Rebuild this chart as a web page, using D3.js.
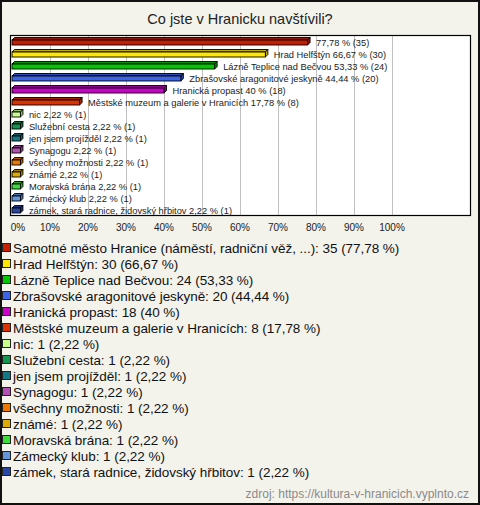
<!DOCTYPE html>
<html><head><meta charset="utf-8">
<script src="https://cdn.jsdelivr.net/npm/d3@7"></script>
<style>body{margin:0;background:#fff}svg{display:block}text{font-family:"Liberation Sans",Arial,sans-serif}</style>
</head><body>
<svg id="c" width="480" height="505"></svg>
<script>
const title = "Co jste v Hranicku navštívili?";
const categories = [
  "Samotné město Hranice (náměstí, radniční věž, ...)",
  "Hrad Helfštýn",
  "Lázně Teplice nad Bečvou",
  "Zbrašovské aragonitové jeskyně",
  "Hranická propast",
  "Městské muzeum a galerie v Hranicích",
  "nic",
  "Služební cesta",
  "jen jsem projížděl",
  "Synagogu",
  "všechny možnosti",
  "známé",
  "Moravská brána",
  "Zámecký klub",
  "zámek, stará radnice, židovský hřbitov"
];
const counts = [35, 30, 24, 20, 18, 8, 1, 1, 1, 1, 1, 1, 1, 1, 1];
const percents = [77.78, 66.67, 53.33, 44.44, 40, 17.78, 2.22, 2.22, 2.22, 2.22, 2.22, 2.22, 2.22, 2.22, 2.22];
const barNames = ["", "Hrad Helfštýn", "Lázně Teplice nad Bečvou", "Zbrašovské aragonitové jeskyně",
  "Hranická propast", "Městské muzeum a galerie v Hranicích", "nic", "Služební cesta", "jen jsem projížděl",
  "Synagogu", "všechny možnosti", "známé", "Moravská brána", "Zámecký klub", "zámek, stará radnice, židovský hřbitov"];
const colors = ["#c81e00", "#ffe800", "#00c800", "#3c64e6", "#c800c8", "#dc3200", "#c8ff8c", "#149650",
  "#147887", "#b450b4", "#eb7800", "#dcaa00", "#3cdc3c", "#6496dc", "#2846a5"];
const tickValues = [0, 10, 20, 30, 40, 50, 60, 70, 80, 90, 100];
const tickLabels = ["0%", "10%", "20%", "30%", "40%", "50%", "60%", "70%", "80%", "90%", "100%"];
const source = "zdroj: https://kultura-v-hranicich.vyplnto.cz";

const fmt = v => String(v).replace(".", ",");
const svg = d3.select("#c");

svg.append("rect").attr("x", 1).attr("y", 1).attr("width", 478).attr("height", 503)
  .attr("fill", "#f3f3ec").attr("stroke", "#111").attr("stroke-width", 2);

svg.append("text").attr("x", 240).attr("y", 24).attr("text-anchor", "middle")
  .attr("font-size", 14.5).attr("fill", "#222").text(title);

const plot = {l: 10.5, t: 35.5, w: 460, h: 180};
svg.append("rect").attr("x", plot.l).attr("y", plot.t).attr("width", plot.w).attr("height", plot.h)
  .attr("fill", "#fff");

const x = d3.scaleLinear().domain([0, 100]).range([12, 392]);
const y = d3.scaleBand().domain(categories).range([36, 216]);

svg.append("g").selectAll("line").data(tickValues.slice(1)).join("line")
  .attr("x1", d => Math.round(x(d)) + 0.5).attr("x2", d => Math.round(x(d)) + 0.5)
  .attr("y1", plot.t).attr("y2", plot.t + plot.h).attr("stroke", "#c0c0c0").attr("stroke-width", 1);

const d = 2.5, bh = 5;
const rows = categories.map((c, i) => ({c, i, p: percents[i], n: counts[i], col: colors[i]}));
const g = svg.append("g");
rows.forEach(r => {
  const x0 = x(0), x1 = x(r.p), yt = y(r.c) + 1.5;
  const dark = d3.color(r.col).darker(0.8);
  g.append("path").attr("d", `M${x0},${yt + d}L${x0 + d},${yt}L${x1 + d},${yt}L${x1},${yt + d}Z`)
    .attr("fill", dark).attr("stroke", "#000").attr("stroke-width", 0.9);
  g.append("path").attr("d", `M${x1},${yt + d}L${x1 + d},${yt}L${x1 + d},${yt + bh}L${x1},${yt + d + bh}Z`)
    .attr("fill", dark).attr("stroke", "#000").attr("stroke-width", 0.9);
  g.append("rect").attr("x", x0).attr("y", yt + d).attr("width", x1 - x0).attr("height", bh)
    .attr("fill", r.col).attr("stroke", "#000").attr("stroke-width", 0.9);
  const lbl = (barNames[r.i] ? barNames[r.i] + " " : "") + fmt(r.p) + " % (" + r.n + ")";
  g.append("text").attr("x", x1 + d + 6).attr("y", yt + d + bh / 2 + 3.2)
    .attr("font-size", 9.3).attr("fill", "#222").text(lbl);
});

svg.append("rect").attr("x", plot.l).attr("y", plot.t).attr("width", plot.w).attr("height", plot.h)
  .attr("fill", "none").attr("stroke", "#000").attr("stroke-width", 1.2);

svg.append("g").selectAll("text").data(tickValues).join("text")
  .attr("x", (v, i) => i === 0 ? x(v) + 6 : x(v)).attr("y", 231).attr("text-anchor", "middle")
  .attr("font-size", 10).attr("fill", "#222").text((v, i) => tickLabels[i]);

const leg = svg.append("g");
rows.forEach(r => {
  const yy = 248 + 16 * r.i;
  leg.append("rect").attr("x", 2.5).attr("y", yy - 4.5).attr("width", 8).attr("height", 8)
    .attr("fill", r.col).attr("stroke", "#222").attr("stroke-width", 1);
  leg.append("text").attr("x", 13).attr("y", yy + 4.5).attr("font-size", 13.5).attr("letter-spacing", -0.05)
    .attr("fill", "#111").text(r.c + ": " + r.n + " (" + fmt(r.p) + " %)");
});

svg.append("text").attr("x", 469).attr("y", 498).attr("text-anchor", "end")
  .attr("font-size", 12).attr("fill", "#8a8a8a").text(source);
</script>
</body></html>
